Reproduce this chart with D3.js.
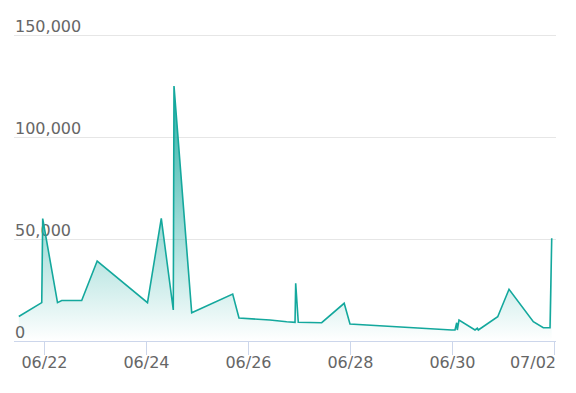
<!DOCTYPE html>
<html>
<head>
<meta charset="utf-8">
<script src="https://cdn.jsdelivr.net/npm/d3@7"></script>
<style>
  html, body { margin: 0; padding: 0; background: #ffffff; }
  svg { display: block; }
  text { font-family: "DejaVu Sans", sans-serif; }
</style>
</head>
<body>
<svg id="chart" width="576" height="393"></svg>
<script>
// ---- data ----
const times = [
  "2023-06-21T12:00", "2023-06-21T22:48", "2023-06-21T23:15", "2023-06-22T06:13",
  "2023-06-22T08:11", "2023-06-22T17:36", "2023-06-23T00:53", "2023-06-24T00:34",
  "2023-06-24T07:03", "2023-06-24T12:42", "2023-06-24T13:02", "2023-06-24T21:22",
  "2023-06-25T16:39", "2023-06-25T19:37", "2023-06-26T10:12", "2023-06-26T18:04",
  "2023-06-26T21:59", "2023-06-26T22:18", "2023-06-26T23:31", "2023-06-27T10:32",
  "2023-06-27T21:07", "2023-06-27T23:51", "2023-06-29T23:43", "2023-06-30T01:16",
  "2023-06-30T02:04", "2023-06-30T02:21", "2023-06-30T03:09", "2023-06-30T10:41",
  "2023-06-30T11:46", "2023-06-30T12:14", "2023-06-30T21:22", "2023-07-01T02:41",
  "2023-07-01T14:07", "2023-07-01T18:49", "2023-07-01T21:59", "2023-07-01T22:47"
];
const values = [
  12000, 18800, 60000, 18800,
  19850, 19850, 39200, 18800,
  60150, 15200, 125000, 13870,
  23040, 11270, 10300, 9460,
  9170, 28290, 9170, 8970,
  18480, 8330, 5390, 5390,
  8970, 5390, 10300, 5390,
  6230, 5390, 11900, 25340,
  9460, 6520, 6520, 50340
];
const yTicks = [0, 50000, 100000, 150000];
const yTickLabels = ["0", "50,000", "100,000", "150,000"];
const xTicks = ["2023-06-22", "2023-06-24", "2023-06-26", "2023-06-28", "2023-06-30", "2023-07-02"];
const xTickLabels = ["06/22", "06/24", "06/26", "06/28", "06/30", "07/02"];

(function () {
  const parse = s => new Date(s + (s.length === 10 ? "T00:00Z" : "Z"));
  const dayMs = 86400000;
  const base = parse("2023-06-22").getTime();
  const pLeft = 14, pRight = 556, pTop = 35, pBottom = 341;

  const x = d3.scaleUtc()
    .domain([new Date(base - 0.594 * dayMs), new Date(base + 10.033 * dayMs)])
    .range([pLeft, pRight]);
  const y = d3.scaleLinear().domain([0, 150000]).range([pBottom, pTop]);

  const data = times.map((t, i) => ({ t: parse(t), v: values[i] }));

  const svg = d3.select("#chart");
  const color = "#14a89d";

  const defs = svg.append("defs");
  const grad = defs.append("linearGradient")
    .attr("id", "fillGrad").attr("x1", 0).attr("y1", 0).attr("x2", 0).attr("y2", 1);
  grad.append("stop").attr("offset", "0%").attr("stop-color", color).attr("stop-opacity", 0.92);
  grad.append("stop").attr("offset", "100%").attr("stop-color", color).attr("stop-opacity", 0.0);

  // gridlines
  svg.append("g").selectAll("line")
    .data(yTicks.filter(d => d !== 0))
    .join("line")
    .attr("x1", pLeft).attr("x2", pRight)
    .attr("y1", d => Math.round(y(d)) + 0.5).attr("y2", d => Math.round(y(d)) + 0.5)
    .attr("stroke", "#e6e6e6").attr("stroke-width", 1);

  // y labels
  svg.append("g").selectAll("text")
    .data(yTicks)
    .join("text")
    .attr("x", pLeft + 1)
    .attr("y", d => y(d) - 3)
    .attr("fill", "#666666")
    .attr("font-size", 16)
    .text((d, i) => yTickLabels[i]);

  // area + line
  const area = d3.area().x(d => x(d.t)).y0(y(0)).y1(d => y(d.v));
  const line = d3.line().x(d => x(d.t)).y(d => y(d.v));

  svg.append("path").datum(data)
    .attr("d", area)
    .attr("fill", "url(#fillGrad)");

  svg.append("path").datum(data)
    .attr("d", line)
    .attr("fill", "none")
    .attr("stroke", color)
    .attr("stroke-width", 1.6)
    .attr("stroke-linejoin", "miter");

  // x axis line
  svg.append("line")
    .attr("x1", pLeft).attr("x2", pRight)
    .attr("y1", pBottom + 0.5).attr("y2", pBottom + 0.5)
    .attr("stroke", "#ccd6eb").attr("stroke-width", 1);

  // x ticks
  const xt = svg.append("g");
  xTicks.forEach((s, i) => {
    const px = Math.round(x(parse(s))) + 0.5;
    xt.append("line")
      .attr("x1", px).attr("x2", px)
      .attr("y1", pBottom).attr("y2", pBottom + 14)
      .attr("stroke", "#ccd6eb").attr("stroke-width", 1);
    const last = i === xTicks.length - 1;
    xt.append("text")
      .attr("x", last ? pRight : px)
      .attr("y", 368)
      .attr("text-anchor", last ? "end" : "middle")
      .attr("fill", "#666666")
      .attr("font-size", 16)
      .text(xTickLabels[i]);
  });
})();
</script>
</body>
</html>
